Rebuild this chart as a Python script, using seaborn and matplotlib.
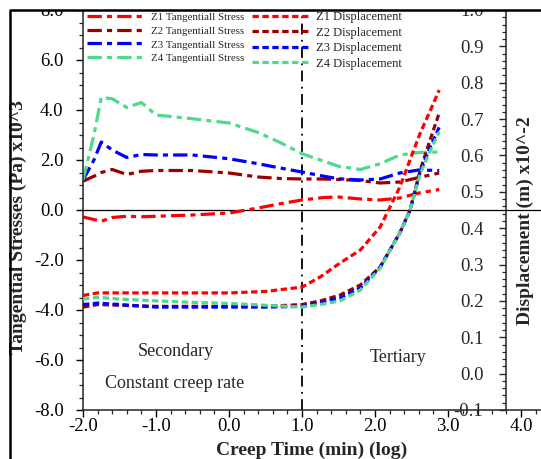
import numpy as np
import pandas as pd
import matplotlib
matplotlib.use("Agg")
import matplotlib.pyplot as plt
from matplotlib.lines import Line2D
from matplotlib.patches import Rectangle
from matplotlib.ticker import MultipleLocator, FormatStrFormatter
import seaborn as sns

# ---------------- data ----------------
x_stress = [-2.0, -1.85, -1.75, -1.6, -1.4, -1.2, -1.0, -0.5, 0.0, 0.4, 0.7,
            1.0, 1.3, 1.5, 1.8, 2.07, 2.34, 2.6, 2.88]
z1_stress = [-0.28, -0.38, -0.45, -0.30, -0.25, -0.27, -0.25, -0.20, -0.12, 0.08, 0.25,
             0.40, 0.50, 0.52, 0.44, 0.40, 0.48, 0.68, 0.82]
z2_stress = [1.15, 1.35, 1.50, 1.62, 1.42, 1.55, 1.58, 1.58, 1.48, 1.32, 1.26,
             1.24, 1.24, 1.22, 1.18, 1.08, 1.12, 1.30, 1.48]
z3_stress = [1.20, 2.00, 2.72, 2.40, 2.10, 2.22, 2.20, 2.20, 2.05, 1.85, 1.68,
             1.52, 1.35, 1.25, 1.20, 1.24, 1.48, 1.60, 1.58]
z4_stress = [1.20, 3.00, 4.50, 4.45, 4.10, 4.30, 3.80, 3.65, 3.48, 3.10, 2.70,
             2.25, 1.95, 1.75, 1.62, 1.85, 2.20, 2.30, 2.32]

x_disp = [-2.0, -1.8, -1.5, -1.0, -0.5, 0.0, 0.5, 1.0, 1.25, 1.52, 1.8, 2.07,
          2.34, 2.48, 2.62, 2.75, 2.88]
z1_disp = [0.215, 0.222, 0.222, 0.222, 0.222, 0.222, 0.226, 0.238, 0.266, 0.304, 0.340,
           0.403, 0.513, 0.588, 0.662, 0.720, 0.780]
z2_disp = [0.183, 0.190, 0.188, 0.185, 0.185, 0.185, 0.185, 0.190, 0.200, 0.216, 0.244,
           0.293, 0.387, 0.450, 0.560, 0.640, 0.717]
z3_disp = [0.190, 0.194, 0.190, 0.183, 0.183, 0.183, 0.183, 0.185, 0.195, 0.208, 0.236,
           0.293, 0.387, 0.450, 0.555, 0.620, 0.678]
z4_disp = [0.205, 0.210, 0.205, 0.200, 0.196, 0.193, 0.188, 0.183, 0.190, 0.200, 0.230,
           0.290, 0.387, 0.450, 0.550, 0.610, 0.665]

zones = ["Z1", "Z2", "Z3", "Z4"]
colors = ["#ff0000", "#990000", "#0000ff", "#4fd98a"]
stress_labels = [f"{z} Tangentiall Stress" for z in zones]
disp_labels = [f"{z} Displacement" for z in zones]

x_ticks = [-2.0, -1.0, 0.0, 1.0, 2.0, 3.0, 4.0]
y_left_ticks = [-8.0, -6.0, -4.0, -2.0, 0.0, 2.0, 4.0, 6.0, 8.0]
y_right_ticks = [-0.1, 0.0, 0.1, 0.2, 0.3, 0.4, 0.5, 0.6, 0.7, 0.8, 0.9, 1.0]

# ---------------- style ----------------
sns.set_style("ticks")
plt.rcParams["font.family"] = ["Liberation Serif", "DejaVu Serif"]
plt.rcParams["axes.linewidth"] = 1.1

W, H = 541, 459
fig = plt.figure(figsize=(W / 100, H / 100), dpi=100)
ax = fig.add_axes([83 / W, 1 - 410 / H, 1 - 83 / W, (410 - 10) / H])
ax2 = ax.twinx()

stress_df = pd.DataFrame({"x": x_stress, "Z1": z1_stress, "Z2": z2_stress,
                          "Z3": z3_stress, "Z4": z4_stress})
disp_df = pd.DataFrame({"x": x_disp, "Z1": z1_disp, "Z2": z2_disp,
                        "Z3": z3_disp, "Z4": z4_disp})

lw = 2.3
stress_handles, disp_handles = [], []
for z, c, lab in zip(zones, colors, stress_labels):
    sns.lineplot(data=stress_df, x="x", y=z, ax=ax, color=c, linewidth=lw,
                 linestyle=(0, (4.5, 1.6, 1.6, 1.6)), label=lab, legend=False)
    stress_handles.append(ax.lines[-1])
for z, c, lab in zip(zones, colors, disp_labels):
    sns.lineplot(data=disp_df, x="x", y=z, ax=ax2, color=c, linewidth=lw,
                 linestyle=(0, (2.0, 1.1)), label=lab, legend=False)
    disp_handles.append(ax2.lines[-1])

ax.axhline(0, color="black", linewidth=0.9, zorder=1)
ax.axvline(1.0, color="black", linewidth=1.3, linestyle=(0, (6, 3, 1, 3)), zorder=1)

# axes limits & ticks
ax.set_xlim(-2.0, -2.0 + (W - 83) / 73.0)
ax.set_ylim(-8.0, 8.0)
ax2.set_ylim(-0.1, 1.0)

ax.set_xticks(x_ticks)
ax.xaxis.set_minor_locator(MultipleLocator(0.2))
ax.xaxis.set_major_formatter(FormatStrFormatter("%.1f"))
ax.set_yticks(y_left_ticks)
ax.yaxis.set_minor_locator(MultipleLocator(0.5))
ax.yaxis.set_major_formatter(FormatStrFormatter("%.1f"))

ax2.set_yticks(y_right_ticks)
ax2.yaxis.set_minor_locator(MultipleLocator(0.02))
ax2.yaxis.set_major_formatter(FormatStrFormatter("%.1f"))

for a in (ax, ax2):
    a.set_xlabel("")
    a.set_ylabel("")

ax.tick_params(axis="both", which="major", direction="out", length=5, width=1,
               labelsize=13.5, colors="black")
ax.tick_params(axis="both", which="minor", direction="out", length=3, width=0.9)
ax.tick_params(axis="x", which="major", pad=1)
ax.tick_params(axis="y", which="major", pad=9)
for s in ["top", "right"]:
    ax.spines[s].set_visible(False)

# right (displacement) axis: spine placed at x=3.79, ticks/labels on its left side
ax2.spines["left"].set_position(("data", 3.79))
ax2.spines["left"].set_visible(True)
for s in ["right", "top", "bottom"]:
    ax2.spines[s].set_visible(False)
ax2.yaxis.set_ticks_position("left")
ax2.yaxis.set_label_position("left")
ax2.tick_params(axis="y", which="major", direction="out", length=5, width=1,
                labelsize=13.5, pad=11, left=True, right=False,
                labelleft=True, labelright=False)
ax2.tick_params(axis="y", which="minor", direction="out", length=3, width=0.9,
                left=True, right=False)

# axis labels
fig.text(312 / W, 1 - 450 / H, "Creep Time (min) (log)", ha="center", va="center",
         fontsize=14, fontweight="bold")
fig.text(18 / W, 1 - 227 / H, "Tangential Stresses (Pa) x10^3", ha="center",
         va="center", rotation=90, fontsize=14, fontweight="bold")
fig.text(525 / W, 1 - 221 / H, "Displacement (m) x10^-2", ha="center",
         va="center", rotation=90, fontsize=14, fontweight="bold")

# annotations
ax.text(-0.73, -5.68, "Secondary", ha="center", va="center", fontsize=13)
ax.text(-0.74, -6.96, "Constant creep rate", ha="center", va="center", fontsize=13)
ax.text(2.32, -5.88, "Tertiary", ha="center", va="center", fontsize=13)

# legend
leg = ax2.legend(stress_handles + disp_handles, stress_labels + disp_labels,
                 ncol=2, loc="upper left", frameon=False,
                 bbox_to_anchor=(87 / W, 1 - 11 / H), bbox_transform=fig.transFigure,
                 fontsize=8.5, handlelength=5.0, handletextpad=0.4,
                 columnspacing=0.7, labelspacing=0.3, borderpad=0, borderaxespad=0)
for i, t in enumerate(leg.get_texts()):
    t.set_fontsize(7.8 if i < 4 else 9.0)

# white cover above the frame and the frame lines
fig.patches.append(Rectangle((0, 1 - 10 / H), 1, 10 / H, transform=fig.transFigure,
                             facecolor="white", edgecolor="none", zorder=20))
fig.lines.append(Line2D([10 / W, 10 / W, 1.0], [0.0, 1 - 10 / H, 1 - 10 / H],
                        transform=fig.transFigure, color="black", linewidth=1.8,
                        zorder=21))

fig.savefig("out.png", dpi=100)
